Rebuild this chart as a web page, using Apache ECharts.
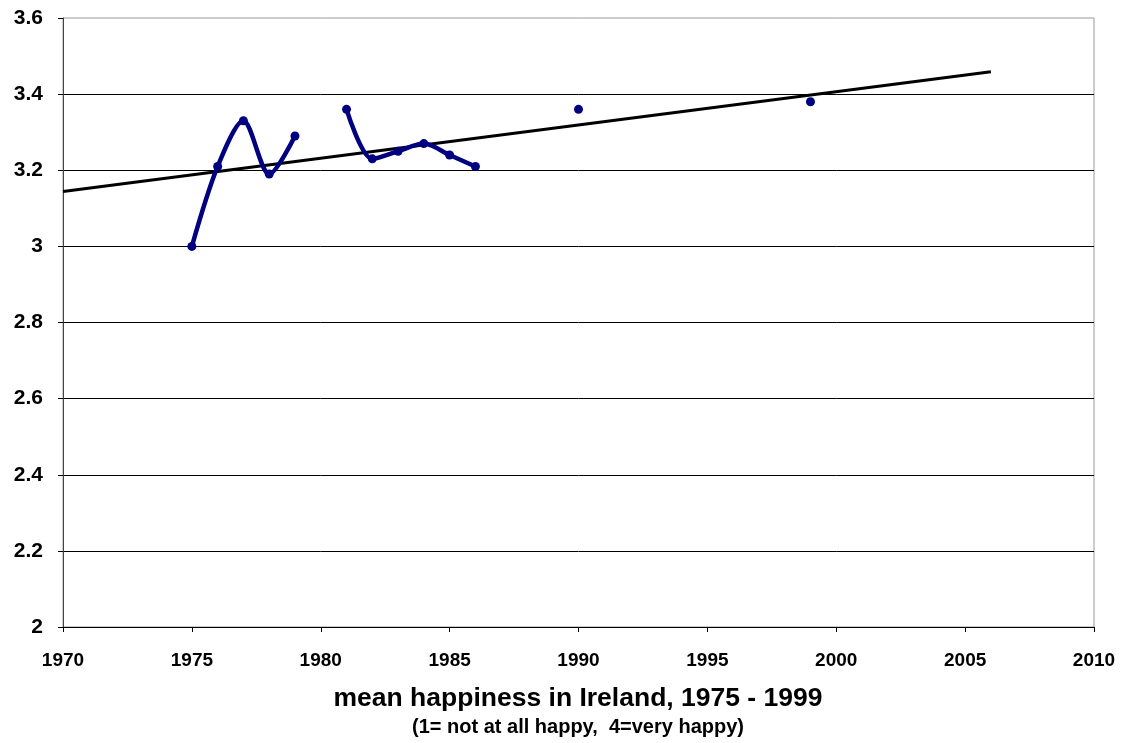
<!DOCTYPE html>
<html>
<head>
<meta charset="utf-8">
<script src="https://cdn.jsdelivr.net/npm/echarts@6/dist/echarts.min.js"></script>
<style>
html,body{margin:0;padding:0;background:#fff;}
#chart{width:1124px;height:743px;}
</style>
</head>
<body>
<div id="chart"></div>
<script>
// Data
const years = [1975, 1976, 1977, 1978, 1979, 1981, 1982, 1983, 1984, 1985, 1986, 1990, 1999];
const happiness = [3.00, 3.21, 3.33, 3.19, 3.29, 3.36, 3.23, 3.25, 3.27, 3.24, 3.21, 3.36, 3.38];
const trendYears = [1970, 2006];
const trendValues = [3.144, 3.459];
const xTicks = [1970, 1975, 1980, 1985, 1990, 1995, 2000, 2005, 2010];
const yTicks = [2, 2.2, 2.4, 2.6, 2.8, 3, 3.2, 3.4, 3.6];
const titleText = 'mean happiness in Ireland, 1975 - 1999';
const subtitleText = '(1= not at all happy,  4=very happy)';

// Build line data with gaps where years are not consecutive (Excel-style gaps)
const lineData = [];
for (let i = 0; i < years.length; i++) {
  if (i > 0 && years[i] - years[i - 1] > 1) lineData.push([years[i - 1] + 1, null]);
  lineData.push([years[i], happiness[i]]);
}
const trendData = trendYears.map((y, i) => [y, trendValues[i]]);

const font = 'Liberation Sans, Arial, sans-serif';
const chart = echarts.init(document.getElementById('chart'));
chart.setOption({
  animation: false,
  backgroundColor: '#fff',
  title: [
    { text: titleText, left: 578, top: 685, textAlign: 'center', padding: 0,
      textStyle: { fontFamily: font, fontWeight: 'bold', fontSize: 26.5, color: '#000' } },
    { text: subtitleText, left: 578, top: 717, textAlign: 'center', padding: 0,
      textStyle: { fontFamily: font, fontWeight: 'bold', fontSize: 20, color: '#000' } }
  ],
  grid: { left: 63, right: 30, top: 18, bottom: 116, show: true, borderColor: '#999', borderWidth: 1, containLabel: false },
  xAxis: {
    type: 'value', min: xTicks[0], max: xTicks[xTicks.length - 1], interval: 5,
    axisLine: { show: true, lineStyle: { color: '#000', width: 1 } },
    axisTick: { show: true, length: 5, lineStyle: { color: '#000' } },
    axisLabel: { margin: 24, fontFamily: font, fontWeight: 'bold', fontSize: 19, color: '#000',
      formatter: v => String(v) },
    splitLine: { show: false }
  },
  yAxis: {
    type: 'value', min: yTicks[0], max: yTicks[yTicks.length - 1], interval: 0.2,
    axisLine: { show: true, lineStyle: { color: '#444', width: 1 } },
    axisTick: { show: true, length: 5, lineStyle: { color: '#000' } },
    axisLabel: { margin: 20, fontFamily: font, fontWeight: 'bold', fontSize: 21, color: '#000',
      formatter: v => String(Math.round(v * 10) / 10) },
    splitLine: { show: true, showMaxLine: false, lineStyle: { color: '#000', width: 1 } }
  },
  series: [
    {
      type: 'line', data: trendData, symbol: 'none', silent: true,
      lineStyle: { color: '#000', width: 3 }, z: 3
    },
    {
      type: 'line', data: lineData, smooth: 0.3, connectNulls: false,
      symbol: 'circle', symbolSize: 9, showSymbol: true,
      itemStyle: { color: '#000080' },
      lineStyle: { color: '#000080', width: 4.5 }, z: 4
    }
  ]
});
</script>
</body>
</html>
